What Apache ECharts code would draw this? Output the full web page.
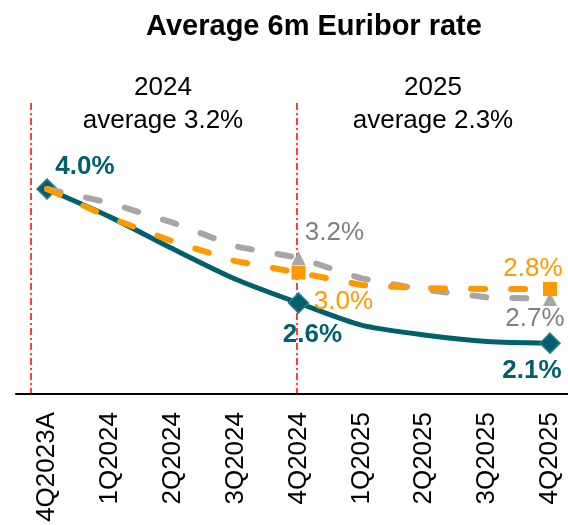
<!DOCTYPE html>
<html>
<head>
<meta charset="utf-8">
<script src="https://cdn.jsdelivr.net/npm/echarts@6/dist/echarts.min.js"></script>
<style>
  html, body { margin: 0; padding: 0; background: #fff; }
  #main { width: 568px; height: 525px; }
</style>
</head>
<body>
<div id="main"></div>
<script>
// data
var categories = ['4Q2023A', '1Q2024', '2Q2024', '3Q2024', '4Q2024', '1Q2025', '2Q2025', '3Q2025', '4Q2025'];
var euribor = [4.0, 3.66, 3.27, 2.9, 2.61, 2.34, 2.22, 2.14, 2.12];
var forecastOrange = [4.0, 3.65, 3.36, 3.12, 2.98, 2.83, 2.79, 2.78, 2.78];
var forecastGray = [4.0, 3.83, 3.59, 3.3, 3.16, 2.91, 2.77, 2.68, 2.66];
var yearNotes = [
    { cat: '2024', text: 'average 3.2%' },
    { cat: '2025', text: 'average 2.3%' }
];

var TEAL = '#00606E';
var ORANGE = '#FF9900';
var GRAY = '#A6A6A6';
var FONT = '"Liberation Sans", Arial, sans-serif';

// which points get a marker + label, and where the label sits
var tealLabels = { 0: [38, -22], 4: [14, 32], 8: [-18, 28] };
var orangeLabels = { 4: [45, 29], 8: [-17, -20] };
var grayLabels = { 4: [36, -25], 8: [-15, 20] };

function buildData(values, labels, symbol, color, bold) {
    return values.map(function (v, i) {
        var off = labels[i];
        if (!off) {
            return { value: v, symbol: 'none' };
        }
        return {
            value: v,
            symbol: symbol,
            label: {
                show: true,
                position: 'inside',
                offset: off,
                formatter: function (p) { return p.value.toFixed(1) + '%'; },
                color: color,
                fontSize: 26,
                fontWeight: bold ? 'bold' : 'normal',
                fontFamily: FONT
            }
        };
    });
}

var chartDom = document.getElementById('main');
var myChart = echarts.init(chartDom);

var redLine = function (x) {
    return {
        type: 'line',
        shape: { x1: x, y1: 103, x2: x, y2: 393 },
        style: { stroke: '#FF0000', lineWidth: 1.5, lineDash: [7, 3, 2, 3] },
        z: 0
    };
};

var noteText = function (x, y, text) {
    return {
        type: 'text',
        x: x,
        y: y,
        style: {
            text: text,
            align: 'center',
            verticalAlign: 'middle',
            font: '26px ' + FONT,
            fill: '#000'
        }
    };
};

var option = {
    animation: false,
    title: {
        text: 'Average 6m Euribor rate',
        left: 314,
        top: 12,
        padding: 0,
        textAlign: 'center',
        textStyle: { fontSize: 29, fontWeight: 'bold', color: '#000', fontFamily: FONT }
    },
    graphic: [
        redLine(31),
        redLine(297),
        noteText(163, 88, yearNotes[0].cat),
        noteText(163, 121, yearNotes[0].text),
        noteText(433, 88, yearNotes[1].cat),
        noteText(433, 121, yearNotes[1].text)
    ],
    grid: [
        { left: 47, right: 18, top: 148, bottom: 131, containLabel: false },
        // wider grid only to carry the baseline across the full width
        { left: 16, right: 0, top: 148, bottom: 131, containLabel: false }
    ],
    xAxis: [
        {
            type: 'category',
            gridIndex: 0,
            data: categories,
            boundaryGap: false,
            axisLine: { show: false },
            axisTick: { show: false },
            axisLabel: {
                interval: 0,
                rotate: 90,
                margin: 18,
                fontSize: 26,
                color: '#000',
                fontFamily: FONT
            }
        },
        {
            type: 'value',
            gridIndex: 1,
            min: 0,
            max: 1,
            axisLine: { show: true, lineStyle: { color: '#000', width: 2 } },
            axisTick: { show: false },
            axisLabel: { show: false },
            splitLine: { show: false }
        }
    ],
    yAxis: [
        { type: 'value', gridIndex: 0, min: 1.5, max: 4.5, show: false, splitLine: { show: false } },
        { type: 'value', gridIndex: 1, min: 0, max: 1, show: false, splitLine: { show: false } }
    ],
    series: [
        {
            name: 'Euribor 6m',
            type: 'line',
            data: buildData(euribor, tealLabels, 'diamond', TEAL, true),
            smooth: 0.25,
            symbolSize: [20, 20],
            lineStyle: { color: TEAL, width: 5 },
            itemStyle: { color: TEAL, borderColor: '#2E7E8B', borderWidth: 1.5 },
            z: 2
        },
        {
            name: 'Forecast B',
            type: 'line',
            data: buildData(forecastGray, grayLabels, 'triangle', '#808080', false),
            symbolSize: 14,
            lineStyle: { color: GRAY, width: 6, type: [14, 26], cap: 'round' },
            itemStyle: { color: GRAY },
            z: 3
        },
        {
            name: 'Forecast A',
            type: 'line',
            data: buildData(forecastOrange, orangeLabels, 'rect', ORANGE, false),
            symbolSize: 14,
            lineStyle: { color: ORANGE, width: 6, type: [14, 26], cap: 'round' },
            itemStyle: { color: ORANGE },
            z: 4
        }
    ]
};

option && myChart.setOption(option);
</script>
</body>
</html>
